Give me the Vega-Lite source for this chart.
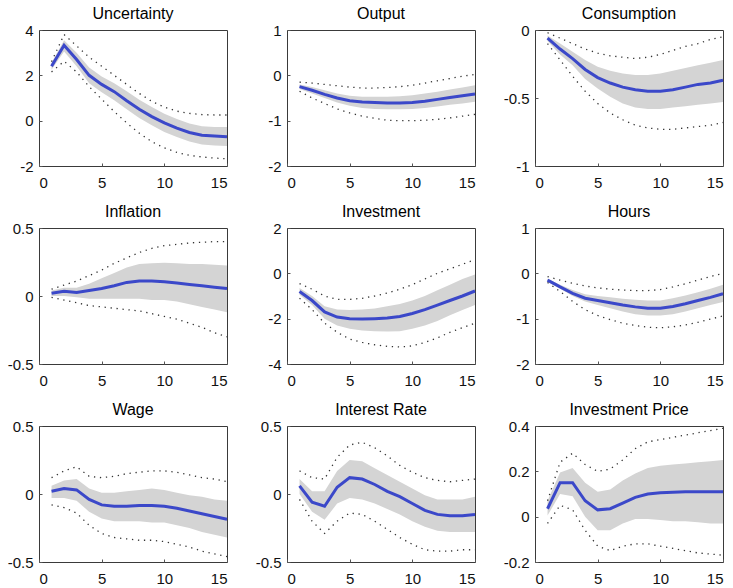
{
  "$schema": "https://vega.github.io/schema/vega-lite/v6.json",
  "padding": {"left": 6, "top": 5, "right": 5, "bottom": 5},
  "background": "white",
  "columns": 3,
  "spacing": {"row": 62, "column": 60},
  "bounds": "flush",
  "config": {
    "font": "Liberation Sans",
    "view": {"stroke": "#3a3a3a", "strokeWidth": 1},
    "axis": {
      "domain": false, "grid": false, "ticks": true, "tickSize": -3, "tickColor": "#555",
      "labelFontSize": 15, "labelColor": "#111", "labelFont": "Liberation Sans", "labelPadding": 9,
      "labelExpr": "replace(format(datum.value, '~g'), '\u2212', '-')"
    },
    "axisX": {"labelPadding": 12},
    "title": {"fontSize": 16, "fontWeight": "normal", "color": "#000", "font": "Liberation Sans", "offset": 1, "anchor": "middle"}
  },
  "datasets": {
    "unc": [
      {"h":1,"m":2.4,"lo":2.25,"hi":2.55,"lo2":2.15,"hi2":2.6},
      {"h":2,"m":3.33,"lo":3.05,"hi":3.55,"lo2":2.62,"hi2":3.8},
      {"h":3,"m":2.7,"lo":2.4,"hi":3.0,"lo2":2.15,"hi2":3.3},
      {"h":4,"m":2.0,"lo":1.65,"hi":2.35,"lo2":1.5,"hi2":2.8},
      {"h":5,"m":1.6,"lo":1.25,"hi":1.95,"lo2":0.95,"hi2":2.4},
      {"h":6,"m":1.28,"lo":0.9,"hi":1.65,"lo2":0.4,"hi2":2.0},
      {"h":7,"m":0.88,"lo":0.5,"hi":1.3,"lo2":-0.1,"hi2":1.6},
      {"h":8,"m":0.5,"lo":0.12,"hi":0.92,"lo2":-0.55,"hi2":1.2},
      {"h":9,"m":0.18,"lo":-0.2,"hi":0.6,"lo2":-0.93,"hi2":0.85},
      {"h":10,"m":-0.1,"lo":-0.5,"hi":0.3,"lo2":-1.2,"hi2":0.6},
      {"h":11,"m":-0.33,"lo":-0.72,"hi":0.07,"lo2":-1.4,"hi2":0.42},
      {"h":12,"m":-0.52,"lo":-0.92,"hi":-0.12,"lo2":-1.53,"hi2":0.32},
      {"h":13,"m":-0.64,"lo":-1.05,"hi":-0.25,"lo2":-1.6,"hi2":0.27},
      {"h":14,"m":-0.68,"lo":-1.1,"hi":-0.28,"lo2":-1.65,"hi2":0.25},
      {"h":15,"m":-0.71,"lo":-1.12,"hi":-0.28,"lo2":-1.68,"hi2":0.25}
    ],
    "out": [
      {"h":1,"m":-0.25,"lo":-0.3,"hi":-0.2,"lo2":-0.35,"hi2":-0.15},
      {"h":2,"m":-0.33,"lo":-0.4,"hi":-0.26,"lo2":-0.5,"hi2":-0.17},
      {"h":3,"m":-0.42,"lo":-0.5,"hi":-0.33,"lo2":-0.62,"hi2":-0.2},
      {"h":4,"m":-0.5,"lo":-0.6,"hi":-0.4,"lo2":-0.74,"hi2":-0.23},
      {"h":5,"m":-0.56,"lo":-0.67,"hi":-0.45,"lo2":-0.83,"hi2":-0.26},
      {"h":6,"m":-0.59,"lo":-0.72,"hi":-0.47,"lo2":-0.9,"hi2":-0.28},
      {"h":7,"m":-0.6,"lo":-0.74,"hi":-0.47,"lo2":-0.95,"hi2":-0.28},
      {"h":8,"m":-0.61,"lo":-0.75,"hi":-0.47,"lo2":-0.99,"hi2":-0.27},
      {"h":9,"m":-0.61,"lo":-0.75,"hi":-0.46,"lo2":-1.0,"hi2":-0.25},
      {"h":10,"m":-0.6,"lo":-0.74,"hi":-0.44,"lo2":-1.0,"hi2":-0.22},
      {"h":11,"m":-0.57,"lo":-0.72,"hi":-0.4,"lo2":-0.99,"hi2":-0.17},
      {"h":12,"m":-0.53,"lo":-0.69,"hi":-0.36,"lo2":-0.97,"hi2":-0.12},
      {"h":13,"m":-0.49,"lo":-0.65,"hi":-0.31,"lo2":-0.94,"hi2":-0.07},
      {"h":14,"m":-0.45,"lo":-0.62,"hi":-0.27,"lo2":-0.9,"hi2":-0.02},
      {"h":15,"m":-0.41,"lo":-0.58,"hi":-0.22,"lo2":-0.86,"hi2":0.02}
    ],
    "con": [
      {"h":1,"m":-0.06,"lo":-0.08,"hi":-0.04,"lo2":-0.1,"hi2":-0.02},
      {"h":2,"m":-0.14,"lo":-0.18,"hi":-0.1,"lo2":-0.22,"hi2":-0.06},
      {"h":3,"m":-0.21,"lo":-0.26,"hi":-0.16,"lo2":-0.34,"hi2":-0.1},
      {"h":4,"m":-0.29,"lo":-0.36,"hi":-0.22,"lo2":-0.45,"hi2":-0.14},
      {"h":5,"m":-0.35,"lo":-0.43,"hi":-0.27,"lo2":-0.54,"hi2":-0.17},
      {"h":6,"m":-0.39,"lo":-0.49,"hi":-0.3,"lo2":-0.61,"hi2":-0.19},
      {"h":7,"m":-0.42,"lo":-0.54,"hi":-0.32,"lo2":-0.66,"hi2":-0.2},
      {"h":8,"m":-0.44,"lo":-0.57,"hi":-0.33,"lo2":-0.7,"hi2":-0.21},
      {"h":9,"m":-0.45,"lo":-0.58,"hi":-0.33,"lo2":-0.72,"hi2":-0.2},
      {"h":10,"m":-0.45,"lo":-0.58,"hi":-0.32,"lo2":-0.73,"hi2":-0.18},
      {"h":11,"m":-0.44,"lo":-0.57,"hi":-0.3,"lo2":-0.73,"hi2":-0.15},
      {"h":12,"m":-0.42,"lo":-0.56,"hi":-0.28,"lo2":-0.72,"hi2":-0.12},
      {"h":13,"m":-0.4,"lo":-0.55,"hi":-0.26,"lo2":-0.71,"hi2":-0.1},
      {"h":14,"m":-0.39,"lo":-0.54,"hi":-0.24,"lo2":-0.7,"hi2":-0.07},
      {"h":15,"m":-0.37,"lo":-0.53,"hi":-0.22,"lo2":-0.68,"hi2":-0.05}
    ],
    "inf": [
      {"h":1,"m":0.02,"lo":0.0,"hi":0.04,"lo2":-0.01,"hi2":0.05},
      {"h":2,"m":0.035,"lo":0.0,"hi":0.06,"lo2":-0.03,"hi2":0.08},
      {"h":3,"m":0.025,"lo":-0.01,"hi":0.06,"lo2":-0.05,"hi2":0.11},
      {"h":4,"m":0.04,"lo":-0.02,"hi":0.09,"lo2":-0.07,"hi2":0.15},
      {"h":5,"m":0.055,"lo":-0.02,"hi":0.13,"lo2":-0.08,"hi2":0.19},
      {"h":6,"m":0.075,"lo":-0.02,"hi":0.17,"lo2":-0.09,"hi2":0.24},
      {"h":7,"m":0.1,"lo":-0.02,"hi":0.21,"lo2":-0.1,"hi2":0.28},
      {"h":8,"m":0.11,"lo":-0.02,"hi":0.235,"lo2":-0.11,"hi2":0.32},
      {"h":9,"m":0.11,"lo":-0.03,"hi":0.24,"lo2":-0.13,"hi2":0.35},
      {"h":10,"m":0.105,"lo":-0.03,"hi":0.245,"lo2":-0.15,"hi2":0.37},
      {"h":11,"m":0.095,"lo":-0.04,"hi":0.24,"lo2":-0.17,"hi2":0.38},
      {"h":12,"m":0.085,"lo":-0.06,"hi":0.235,"lo2":-0.2,"hi2":0.39},
      {"h":13,"m":0.075,"lo":-0.08,"hi":0.235,"lo2":-0.23,"hi2":0.395},
      {"h":14,"m":0.065,"lo":-0.1,"hi":0.23,"lo2":-0.27,"hi2":0.4},
      {"h":15,"m":0.055,"lo":-0.12,"hi":0.225,"lo2":-0.3,"hi2":0.4}
    ],
    "inv": [
      {"h":1,"m":-0.8,"lo":-0.95,"hi":-0.65,"lo2":-1.1,"hi2":-0.45},
      {"h":2,"m":-1.2,"lo":-1.4,"hi":-1.0,"lo2":-1.6,"hi2":-0.7},
      {"h":3,"m":-1.7,"lo":-2.0,"hi":-1.45,"lo2":-2.2,"hi2":-1.0},
      {"h":4,"m":-1.93,"lo":-2.3,"hi":-1.6,"lo2":-2.6,"hi2":-1.15},
      {"h":5,"m":-2.0,"lo":-2.45,"hi":-1.62,"lo2":-2.9,"hi2":-1.15},
      {"h":6,"m":-2.02,"lo":-2.52,"hi":-1.6,"lo2":-3.05,"hi2":-1.1},
      {"h":7,"m":-2.0,"lo":-2.55,"hi":-1.55,"lo2":-3.15,"hi2":-1.0},
      {"h":8,"m":-1.97,"lo":-2.57,"hi":-1.45,"lo2":-3.22,"hi2":-0.87},
      {"h":9,"m":-1.9,"lo":-2.55,"hi":-1.35,"lo2":-3.25,"hi2":-0.7},
      {"h":10,"m":-1.77,"lo":-2.45,"hi":-1.2,"lo2":-3.2,"hi2":-0.5},
      {"h":11,"m":-1.6,"lo":-2.3,"hi":-1.0,"lo2":-3.05,"hi2":-0.25},
      {"h":12,"m":-1.4,"lo":-2.1,"hi":-0.75,"lo2":-2.85,"hi2":0.0},
      {"h":13,"m":-1.2,"lo":-1.85,"hi":-0.5,"lo2":-2.6,"hi2":0.2},
      {"h":14,"m":-1.0,"lo":-1.62,"hi":-0.25,"lo2":-2.4,"hi2":0.4},
      {"h":15,"m":-0.78,"lo":-1.4,"hi":-0.05,"lo2":-2.2,"hi2":0.6}
    ],
    "hrs": [
      {"h":1,"m":-0.15,"lo":-0.18,"hi":-0.12,"lo2":-0.2,"hi2":-0.07},
      {"h":2,"m":-0.3,"lo":-0.34,"hi":-0.25,"lo2":-0.4,"hi2":-0.15},
      {"h":3,"m":-0.44,"lo":-0.5,"hi":-0.37,"lo2":-0.62,"hi2":-0.22},
      {"h":4,"m":-0.55,"lo":-0.62,"hi":-0.46,"lo2":-0.8,"hi2":-0.28},
      {"h":5,"m":-0.6,"lo":-0.7,"hi":-0.5,"lo2":-0.93,"hi2":-0.32},
      {"h":6,"m":-0.65,"lo":-0.77,"hi":-0.53,"lo2":-1.02,"hi2":-0.35},
      {"h":7,"m":-0.7,"lo":-0.84,"hi":-0.56,"lo2":-1.1,"hi2":-0.37},
      {"h":8,"m":-0.74,"lo":-0.9,"hi":-0.58,"lo2":-1.15,"hi2":-0.38},
      {"h":9,"m":-0.77,"lo":-0.93,"hi":-0.6,"lo2":-1.19,"hi2":-0.38},
      {"h":10,"m":-0.77,"lo":-0.93,"hi":-0.6,"lo2":-1.2,"hi2":-0.36},
      {"h":11,"m":-0.73,"lo":-0.9,"hi":-0.55,"lo2":-1.18,"hi2":-0.3},
      {"h":12,"m":-0.67,"lo":-0.84,"hi":-0.49,"lo2":-1.14,"hi2":-0.23},
      {"h":13,"m":-0.6,"lo":-0.77,"hi":-0.42,"lo2":-1.08,"hi2":-0.15},
      {"h":14,"m":-0.53,"lo":-0.7,"hi":-0.34,"lo2":-1.01,"hi2":-0.07},
      {"h":15,"m":-0.45,"lo":-0.63,"hi":-0.25,"lo2":-0.94,"hi2":0.0}
    ],
    "wag": [
      {"h":1,"m":0.02,"lo":-0.03,"hi":0.06,"lo2":-0.08,"hi2":0.12},
      {"h":2,"m":0.04,"lo":-0.03,"hi":0.1,"lo2":-0.1,"hi2":0.17},
      {"h":3,"m":0.03,"lo":-0.05,"hi":0.11,"lo2":-0.14,"hi2":0.2},
      {"h":4,"m":-0.04,"lo":-0.13,"hi":0.04,"lo2":-0.23,"hi2":0.13},
      {"h":5,"m":-0.08,"lo":-0.18,"hi":0.01,"lo2":-0.29,"hi2":0.12},
      {"h":6,"m":-0.09,"lo":-0.2,"hi":0.01,"lo2":-0.32,"hi2":0.13},
      {"h":7,"m":-0.09,"lo":-0.2,"hi":0.02,"lo2":-0.33,"hi2":0.15},
      {"h":8,"m":-0.085,"lo":-0.2,"hi":0.03,"lo2":-0.34,"hi2":0.16},
      {"h":9,"m":-0.085,"lo":-0.21,"hi":0.04,"lo2":-0.34,"hi2":0.17},
      {"h":10,"m":-0.09,"lo":-0.21,"hi":0.03,"lo2":-0.35,"hi2":0.17},
      {"h":11,"m":-0.105,"lo":-0.23,"hi":0.01,"lo2":-0.37,"hi2":0.16},
      {"h":12,"m":-0.125,"lo":-0.25,"hi":-0.01,"lo2":-0.39,"hi2":0.14},
      {"h":13,"m":-0.145,"lo":-0.28,"hi":-0.02,"lo2":-0.42,"hi2":0.12},
      {"h":14,"m":-0.165,"lo":-0.3,"hi":-0.04,"lo2":-0.44,"hi2":0.11},
      {"h":15,"m":-0.185,"lo":-0.32,"hi":-0.05,"lo2":-0.46,"hi2":0.09}
    ],
    "int": [
      {"h":1,"m":0.06,"lo":0.0,"hi":0.11,"lo2":-0.04,"hi2":0.17},
      {"h":2,"m":-0.06,"lo":-0.13,"hi":0.02,"lo2":-0.2,"hi2":0.12},
      {"h":3,"m":-0.09,"lo":-0.19,"hi":0.02,"lo2":-0.29,"hi2":0.11},
      {"h":4,"m":0.05,"lo":-0.07,"hi":0.17,"lo2":-0.2,"hi2":0.27},
      {"h":5,"m":0.12,"lo":-0.03,"hi":0.25,"lo2":-0.14,"hi2":0.36},
      {"h":6,"m":0.11,"lo":-0.04,"hi":0.24,"lo2":-0.15,"hi2":0.38},
      {"h":7,"m":0.07,"lo":-0.07,"hi":0.19,"lo2":-0.2,"hi2":0.34},
      {"h":8,"m":0.02,"lo":-0.11,"hi":0.14,"lo2":-0.26,"hi2":0.28},
      {"h":9,"m":-0.02,"lo":-0.15,"hi":0.09,"lo2":-0.32,"hi2":0.21},
      {"h":10,"m":-0.07,"lo":-0.2,"hi":0.04,"lo2":-0.37,"hi2":0.16},
      {"h":11,"m":-0.12,"lo":-0.24,"hi":-0.01,"lo2":-0.41,"hi2":0.12},
      {"h":12,"m":-0.15,"lo":-0.27,"hi":-0.04,"lo2":-0.42,"hi2":0.1},
      {"h":13,"m":-0.16,"lo":-0.28,"hi":-0.04,"lo2":-0.42,"hi2":0.09},
      {"h":14,"m":-0.16,"lo":-0.28,"hi":-0.04,"lo2":-0.41,"hi2":0.1},
      {"h":15,"m":-0.15,"lo":-0.28,"hi":-0.02,"lo2":-0.41,"hi2":0.11}
    ],
    "ipr": [
      {"h":1,"m":0.035,"lo":0.005,"hi":0.07,"lo2":-0.03,"hi2":0.07},
      {"h":2,"m":0.15,"lo":0.1,"hi":0.195,"lo2":0.05,"hi2":0.24},
      {"h":3,"m":0.15,"lo":0.09,"hi":0.215,"lo2":0.03,"hi2":0.28},
      {"h":4,"m":0.07,"lo":0.0,"hi":0.15,"lo2":-0.06,"hi2":0.23},
      {"h":5,"m":0.03,"lo":-0.06,"hi":0.11,"lo2":-0.13,"hi2":0.2},
      {"h":6,"m":0.035,"lo":-0.06,"hi":0.12,"lo2":-0.15,"hi2":0.21},
      {"h":7,"m":0.06,"lo":-0.03,"hi":0.16,"lo2":-0.13,"hi2":0.25},
      {"h":8,"m":0.085,"lo":-0.01,"hi":0.19,"lo2":-0.12,"hi2":0.3},
      {"h":9,"m":0.1,"lo":-0.01,"hi":0.215,"lo2":-0.12,"hi2":0.33},
      {"h":10,"m":0.105,"lo":-0.015,"hi":0.225,"lo2":-0.13,"hi2":0.34},
      {"h":11,"m":0.108,"lo":-0.02,"hi":0.23,"lo2":-0.14,"hi2":0.35},
      {"h":12,"m":0.11,"lo":-0.02,"hi":0.235,"lo2":-0.15,"hi2":0.36},
      {"h":13,"m":0.11,"lo":-0.025,"hi":0.24,"lo2":-0.16,"hi2":0.37},
      {"h":14,"m":0.11,"lo":-0.03,"hi":0.245,"lo2":-0.165,"hi2":0.38},
      {"h":15,"m":0.11,"lo":-0.03,"hi":0.25,"lo2":-0.17,"hi2":0.39}
    ]
  },
  "concat": [
    {"title": "Uncertainty", "data": {"name": "unc"}, "width": 188, "height": 136,
     "encoding": {"x": {"field": "h", "type": "quantitative", "scale": {"domain": [0, 15]}, "axis": {"values": [0, 5, 10, 15]}, "title": null},
                  "y": {"field": "m", "type": "quantitative", "scale": {"domain": [-2, 4]}, "axis": {"values": [-2, 0, 2, 4]}, "title": null}},
     "layer": [
       {"mark": {"type": "area", "color": "#d4d4d4"}, "encoding": {"y": {"field": "lo", "type": "quantitative", "title": null}, "y2": {"field": "hi"}}},
       {"data": {"values": [{}]}, "mark": {"type": "rule", "color": "#8a8a8a", "strokeWidth": 1}, "encoding": {"x": {"datum": 0}, "x2": {"datum": 15}, "y": {"datum": 0}}},
       {"mark": {"type": "line", "color": "#333", "strokeWidth": 1.3, "strokeDash": [1.3, 4.7]}, "encoding": {"y": {"field": "lo2", "type": "quantitative", "title": null}}},
       {"mark": {"type": "line", "color": "#333", "strokeWidth": 1.3, "strokeDash": [1.3, 4.7]}, "encoding": {"y": {"field": "hi2", "type": "quantitative", "title": null}}},
       {"mark": {"type": "line", "color": "#3b48c9", "strokeWidth": 3}, "encoding": {}}
     ]},
    {"title": "Output", "data": {"name": "out"}, "width": 188, "height": 136,
     "encoding": {"x": {"field": "h", "type": "quantitative", "scale": {"domain": [0, 15]}, "axis": {"values": [0, 5, 10, 15]}, "title": null},
                  "y": {"field": "m", "type": "quantitative", "scale": {"domain": [-2, 1]}, "axis": {"values": [-2, -1, 0, 1]}, "title": null}},
     "layer": [
       {"mark": {"type": "area", "color": "#d4d4d4"}, "encoding": {"y": {"field": "lo", "type": "quantitative", "title": null}, "y2": {"field": "hi"}}},
       {"data": {"values": [{}]}, "mark": {"type": "rule", "color": "#8a8a8a", "strokeWidth": 1}, "encoding": {"x": {"datum": 0}, "x2": {"datum": 15}, "y": {"datum": 0}}},
       {"mark": {"type": "line", "color": "#333", "strokeWidth": 1.3, "strokeDash": [1.3, 4.7]}, "encoding": {"y": {"field": "lo2", "type": "quantitative", "title": null}}},
       {"mark": {"type": "line", "color": "#333", "strokeWidth": 1.3, "strokeDash": [1.3, 4.7]}, "encoding": {"y": {"field": "hi2", "type": "quantitative", "title": null}}},
       {"mark": {"type": "line", "color": "#3b48c9", "strokeWidth": 3}, "encoding": {}}
     ]},
    {"title": "Consumption", "data": {"name": "con"}, "width": 188, "height": 136,
     "encoding": {"x": {"field": "h", "type": "quantitative", "scale": {"domain": [0, 15]}, "axis": {"values": [0, 5, 10, 15]}, "title": null},
                  "y": {"field": "m", "type": "quantitative", "scale": {"domain": [-1, 0]}, "axis": {"values": [-1, -0.5, 0]}, "title": null}},
     "layer": [
       {"mark": {"type": "area", "color": "#d4d4d4"}, "encoding": {"y": {"field": "lo", "type": "quantitative", "title": null}, "y2": {"field": "hi"}}},
       {"data": {"values": [{}]}, "mark": {"type": "rule", "color": "#8a8a8a", "strokeWidth": 1}, "encoding": {"x": {"datum": 0}, "x2": {"datum": 15}, "y": {"datum": 0}}},
       {"mark": {"type": "line", "color": "#333", "strokeWidth": 1.3, "strokeDash": [1.3, 4.7]}, "encoding": {"y": {"field": "lo2", "type": "quantitative", "title": null}}},
       {"mark": {"type": "line", "color": "#333", "strokeWidth": 1.3, "strokeDash": [1.3, 4.7]}, "encoding": {"y": {"field": "hi2", "type": "quantitative", "title": null}}},
       {"mark": {"type": "line", "color": "#3b48c9", "strokeWidth": 3}, "encoding": {}}
     ]},
    {"title": "Inflation", "data": {"name": "inf"}, "width": 188, "height": 136,
     "encoding": {"x": {"field": "h", "type": "quantitative", "scale": {"domain": [0, 15]}, "axis": {"values": [0, 5, 10, 15]}, "title": null},
                  "y": {"field": "m", "type": "quantitative", "scale": {"domain": [-0.5, 0.5]}, "axis": {"values": [-0.5, 0, 0.5]}, "title": null}},
     "layer": [
       {"mark": {"type": "area", "color": "#d4d4d4"}, "encoding": {"y": {"field": "lo", "type": "quantitative", "title": null}, "y2": {"field": "hi"}}},
       {"data": {"values": [{}]}, "mark": {"type": "rule", "color": "#8a8a8a", "strokeWidth": 1}, "encoding": {"x": {"datum": 0}, "x2": {"datum": 15}, "y": {"datum": 0}}},
       {"mark": {"type": "line", "color": "#333", "strokeWidth": 1.3, "strokeDash": [1.3, 4.7]}, "encoding": {"y": {"field": "lo2", "type": "quantitative", "title": null}}},
       {"mark": {"type": "line", "color": "#333", "strokeWidth": 1.3, "strokeDash": [1.3, 4.7]}, "encoding": {"y": {"field": "hi2", "type": "quantitative", "title": null}}},
       {"mark": {"type": "line", "color": "#3b48c9", "strokeWidth": 3}, "encoding": {}}
     ]},
    {"title": "Investment", "data": {"name": "inv"}, "width": 188, "height": 136,
     "encoding": {"x": {"field": "h", "type": "quantitative", "scale": {"domain": [0, 15]}, "axis": {"values": [0, 5, 10, 15]}, "title": null},
                  "y": {"field": "m", "type": "quantitative", "scale": {"domain": [-4, 2]}, "axis": {"values": [-4, -2, 0, 2]}, "title": null}},
     "layer": [
       {"mark": {"type": "area", "color": "#d4d4d4"}, "encoding": {"y": {"field": "lo", "type": "quantitative", "title": null}, "y2": {"field": "hi"}}},
       {"data": {"values": [{}]}, "mark": {"type": "rule", "color": "#8a8a8a", "strokeWidth": 1}, "encoding": {"x": {"datum": 0}, "x2": {"datum": 15}, "y": {"datum": 0}}},
       {"mark": {"type": "line", "color": "#333", "strokeWidth": 1.3, "strokeDash": [1.3, 4.7]}, "encoding": {"y": {"field": "lo2", "type": "quantitative", "title": null}}},
       {"mark": {"type": "line", "color": "#333", "strokeWidth": 1.3, "strokeDash": [1.3, 4.7]}, "encoding": {"y": {"field": "hi2", "type": "quantitative", "title": null}}},
       {"mark": {"type": "line", "color": "#3b48c9", "strokeWidth": 3}, "encoding": {}}
     ]},
    {"title": "Hours", "data": {"name": "hrs"}, "width": 188, "height": 136,
     "encoding": {"x": {"field": "h", "type": "quantitative", "scale": {"domain": [0, 15]}, "axis": {"values": [0, 5, 10, 15]}, "title": null},
                  "y": {"field": "m", "type": "quantitative", "scale": {"domain": [-2, 1]}, "axis": {"values": [-2, -1, 0, 1]}, "title": null}},
     "layer": [
       {"mark": {"type": "area", "color": "#d4d4d4"}, "encoding": {"y": {"field": "lo", "type": "quantitative", "title": null}, "y2": {"field": "hi"}}},
       {"data": {"values": [{}]}, "mark": {"type": "rule", "color": "#8a8a8a", "strokeWidth": 1}, "encoding": {"x": {"datum": 0}, "x2": {"datum": 15}, "y": {"datum": 0}}},
       {"mark": {"type": "line", "color": "#333", "strokeWidth": 1.3, "strokeDash": [1.3, 4.7]}, "encoding": {"y": {"field": "lo2", "type": "quantitative", "title": null}}},
       {"mark": {"type": "line", "color": "#333", "strokeWidth": 1.3, "strokeDash": [1.3, 4.7]}, "encoding": {"y": {"field": "hi2", "type": "quantitative", "title": null}}},
       {"mark": {"type": "line", "color": "#3b48c9", "strokeWidth": 3}, "encoding": {}}
     ]},
    {"title": "Wage", "data": {"name": "wag"}, "width": 188, "height": 136,
     "encoding": {"x": {"field": "h", "type": "quantitative", "scale": {"domain": [0, 15]}, "axis": {"values": [0, 5, 10, 15]}, "title": null},
                  "y": {"field": "m", "type": "quantitative", "scale": {"domain": [-0.5, 0.5]}, "axis": {"values": [-0.5, 0, 0.5]}, "title": null}},
     "layer": [
       {"mark": {"type": "area", "color": "#d4d4d4"}, "encoding": {"y": {"field": "lo", "type": "quantitative", "title": null}, "y2": {"field": "hi"}}},
       {"data": {"values": [{}]}, "mark": {"type": "rule", "color": "#8a8a8a", "strokeWidth": 1}, "encoding": {"x": {"datum": 0}, "x2": {"datum": 15}, "y": {"datum": 0}}},
       {"mark": {"type": "line", "color": "#333", "strokeWidth": 1.3, "strokeDash": [1.3, 4.7]}, "encoding": {"y": {"field": "lo2", "type": "quantitative", "title": null}}},
       {"mark": {"type": "line", "color": "#333", "strokeWidth": 1.3, "strokeDash": [1.3, 4.7]}, "encoding": {"y": {"field": "hi2", "type": "quantitative", "title": null}}},
       {"mark": {"type": "line", "color": "#3b48c9", "strokeWidth": 3}, "encoding": {}}
     ]},
    {"title": "Interest Rate", "data": {"name": "int"}, "width": 188, "height": 136,
     "encoding": {"x": {"field": "h", "type": "quantitative", "scale": {"domain": [0, 15]}, "axis": {"values": [0, 5, 10, 15]}, "title": null},
                  "y": {"field": "m", "type": "quantitative", "scale": {"domain": [-0.5, 0.5]}, "axis": {"values": [-0.5, 0, 0.5]}, "title": null}},
     "layer": [
       {"mark": {"type": "area", "color": "#d4d4d4"}, "encoding": {"y": {"field": "lo", "type": "quantitative", "title": null}, "y2": {"field": "hi"}}},
       {"data": {"values": [{}]}, "mark": {"type": "rule", "color": "#8a8a8a", "strokeWidth": 1}, "encoding": {"x": {"datum": 0}, "x2": {"datum": 15}, "y": {"datum": 0}}},
       {"mark": {"type": "line", "color": "#333", "strokeWidth": 1.3, "strokeDash": [1.3, 4.7]}, "encoding": {"y": {"field": "lo2", "type": "quantitative", "title": null}}},
       {"mark": {"type": "line", "color": "#333", "strokeWidth": 1.3, "strokeDash": [1.3, 4.7]}, "encoding": {"y": {"field": "hi2", "type": "quantitative", "title": null}}},
       {"mark": {"type": "line", "color": "#3b48c9", "strokeWidth": 3}, "encoding": {}}
     ]},
    {"title": "Investment Price", "data": {"name": "ipr"}, "width": 188, "height": 136,
     "encoding": {"x": {"field": "h", "type": "quantitative", "scale": {"domain": [0, 15]}, "axis": {"values": [0, 5, 10, 15]}, "title": null},
                  "y": {"field": "m", "type": "quantitative", "scale": {"domain": [-0.2, 0.4]}, "axis": {"values": [-0.2, 0, 0.2, 0.4]}, "title": null}},
     "layer": [
       {"mark": {"type": "area", "color": "#d4d4d4"}, "encoding": {"y": {"field": "lo", "type": "quantitative", "title": null}, "y2": {"field": "hi"}}},
       {"data": {"values": [{}]}, "mark": {"type": "rule", "color": "#8a8a8a", "strokeWidth": 1}, "encoding": {"x": {"datum": 0}, "x2": {"datum": 15}, "y": {"datum": 0}}},
       {"mark": {"type": "line", "color": "#333", "strokeWidth": 1.3, "strokeDash": [1.3, 4.7]}, "encoding": {"y": {"field": "lo2", "type": "quantitative", "title": null}}},
       {"mark": {"type": "line", "color": "#333", "strokeWidth": 1.3, "strokeDash": [1.3, 4.7]}, "encoding": {"y": {"field": "hi2", "type": "quantitative", "title": null}}},
       {"mark": {"type": "line", "color": "#3b48c9", "strokeWidth": 3}, "encoding": {}}
     ]}
  ]
}
